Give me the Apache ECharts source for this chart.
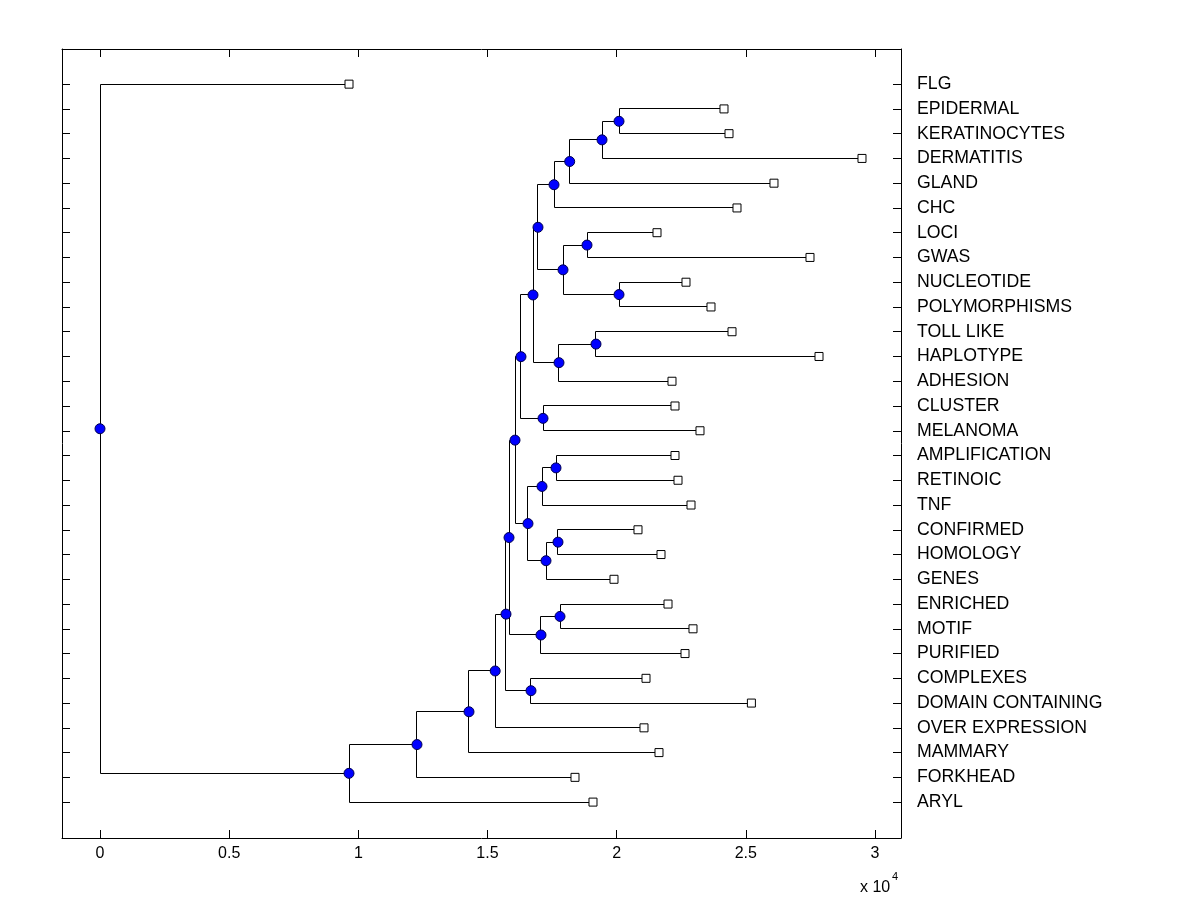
<!DOCTYPE html>
<html>
<head>
<meta charset="utf-8">
<script src="https://cdn.jsdelivr.net/npm/echarts@6/dist/echarts.min.js"></script>
<style>html,body{margin:0;padding:0;background:#fff;}#chart{width:1200px;height:900px;}</style>
</head>
<body>
<div id="chart"></div>
<script>
// Leaves, top to bottom, with their cumulative distance from the root
const leafNames = ['FLG','EPIDERMAL','KERATINOCYTES','DERMATITIS','GLAND','CHC','LOCI','GWAS','NUCLEOTIDE','POLYMORPHISMS','TOLL LIKE','HAPLOTYPE','ADHESION','CLUSTER','MELANOMA','AMPLIFICATION','RETINOIC','TNF','CONFIRMED','HOMOLOGY','GENES','ENRICHED','MOTIF','PURIFIED','COMPLEXES','DOMAIN CONTAINING','OVER EXPRESSION','MAMMARY','FORKHEAD','ARYL'];
const leafDist = [9639,24155,24349,29497,26090,24658,21562,27484,22684,23652,24465,27833,22142,22258,23226,22258,22375,22878,20826,21717,19897,21988,22955,22646,21136,25216,21058,21639,18387,19084];

// Internal (branch) nodes, their distance from the root and their two children
const nodeNames = ['root','A','B','C','D','E','H','F','J','K','I','M','N','P','O','Q','L','S','R','U','V','T','X','Y','Z','W','AA','AB','AC'];
const nodeDist = [0,9639,12271,14284,15298,15716,15833,16684,17071,17807,16065,16568,17110,17652,17265,17729,16297,17149,16762,17768,19200,16955,17923,18852,20091,17575,18182,19433,20091];
const nodeChildren = [
  ['FLG','A'],['B','ARYL'],['C','FORKHEAD'],['D','MAMMARY'],['E','OVER EXPRESSION'],
  ['H','F'],['I','J'],['COMPLEXES','DOMAIN CONTAINING'],['K','PURIFIED'],['ENRICHED','MOTIF'],
  ['L','M'],['N','O'],['P','TNF'],['AMPLIFICATION','RETINOIC'],['Q','GENES'],['CONFIRMED','HOMOLOGY'],
  ['R','S'],['CLUSTER','MELANOMA'],['T','U'],['V','ADHESION'],['TOLL LIKE','HAPLOTYPE'],
  ['W','X'],['Y','Z'],['LOCI','GWAS'],['NUCLEOTIDE','POLYMORPHISMS'],['AA','CHC'],['AB','GLAND'],
  ['AC','DERMATITIS'],['EPIDERMAL','KERATINOCYTES']
];

// Axis tick values
const xTickValues = [0,5000,10000,15000,20000,25000,30000];
const yTickValues = leafNames.map((_, i) => i + 1);

// ---- layout of the tree (y from leaf order, node y = mean of children) ----
const N = leafNames.length;
const pos = {};
leafNames.forEach((n, i) => { pos[n] = { x: leafDist[i], y: N - i }; });
function place(name) {
  if (pos[name]) return pos[name];
  const k = nodeNames.indexOf(name);
  const a = place(nodeChildren[k][0]);
  const b = place(nodeChildren[k][1]);
  pos[name] = { x: nodeDist[k], y: (a.y + b.y) / 2 };
  return pos[name];
}
nodeNames.forEach(place);

const branchData = nodeNames.map((n, k) => {
  const p = pos[n], a = pos[nodeChildren[k][0]], b = pos[nodeChildren[k][1]];
  return [p.x, p.y, a.x, a.y, b.x, b.y];
});
const leafData = leafNames.map(n => [pos[n].x, pos[n].y]);
const nodeData = nodeNames.map(n => [pos[n].x, pos[n].y]);

const FONT = '"Liberation Sans", Arial, Helvetica, sans-serif';
const XMIN = -1471, XMAX = 31007, YMIN = -0.45, YMAX = 31.42;

const snap = v => Math.round(v - 0.5) + 0.5;

const chart = echarts.init(document.getElementById('chart'), null, { renderer: 'canvas' });
chart.setOption({
  animation: false,
  backgroundColor: '#ffffff',
  grid: { left: 62, right: 299, top: 49, bottom: 62, containLabel: false },
  xAxis: [
    {
      type: 'value', position: 'bottom', min: XMIN, max: XMAX,
      axisLine: { show: true, onZero: false, lineStyle: { color: '#000', width: 1 } },
      axisTick: { show: true, inside: true, length: 8, customValues: xTickValues, lineStyle: { color: '#000' } },
      axisLabel: { show: true, customValues: xTickValues, margin: 8, color: '#000', fontSize: 16, fontFamily: FONT,
        formatter: v => String(v / 10000) },
      splitLine: { show: false }
    },
    {
      type: 'value', position: 'top', min: XMIN, max: XMAX,
      axisLine: { show: true, onZero: false, lineStyle: { color: '#000', width: 1 } },
      axisTick: { show: true, inside: true, length: 8, customValues: xTickValues, lineStyle: { color: '#000' } },
      axisLabel: { show: false },
      splitLine: { show: false }
    }
  ],
  yAxis: [
    {
      type: 'value', position: 'left', min: YMIN, max: YMAX,
      axisLine: { show: true, onZero: false, lineStyle: { color: '#000', width: 1 } },
      axisTick: { show: true, inside: true, length: 8, customValues: yTickValues, lineStyle: { color: '#000' } },
      axisLabel: { show: false },
      splitLine: { show: false }
    },
    {
      type: 'value', position: 'right', min: YMIN, max: YMAX,
      axisLine: { show: true, onZero: false, lineStyle: { color: '#000', width: 1 } },
      axisTick: { show: true, inside: true, length: 8, customValues: yTickValues, lineStyle: { color: '#000' } },
      axisLabel: { show: true, customValues: yTickValues, margin: 16, color: '#000', fontSize: 17.7, fontFamily: FONT,
        formatter: v => leafNames[N - Math.round(v)] || '' },
      splitLine: { show: false }
    }
  ],
  graphic: [
    { type: 'text', left: 860, top: 880, style: { text: 'x 10', font: '16px ' + FONT, fill: '#000' } },
    { type: 'text', left: 892, top: 871, style: { text: '4', font: '11px ' + FONT, fill: '#000' } }
  ],
  series: [
    {
      type: 'custom',
      xAxisIndex: 0, yAxisIndex: 0,
      z: 1,
      encode: { x: [0, 2, 4], y: [1, 3, 5] },
      data: branchData,
      silent: true,
      renderItem: function (params, api) {
        const p1 = api.coord([api.value(2), api.value(3)]);
        const p2 = api.coord([api.value(0), api.value(3)]);
        const p3 = api.coord([api.value(0), api.value(5)]);
        const p4 = api.coord([api.value(4), api.value(5)]);
        const pts = [p1, p2, p3, p4].map(p => [snap(p[0]), snap(p[1])]);
        return {
          type: 'polyline',
          shape: { points: pts },
          style: { stroke: '#000', lineWidth: 1, fill: null }
        };
      }
    },
    {
      type: 'scatter', xAxisIndex: 0, yAxisIndex: 0, z: 3,
      symbol: 'rect', symbolSize: 8,
      itemStyle: { color: '#ffffff', borderColor: '#000', borderWidth: 1, opacity: 1 },
      data: leafData, silent: true
    },
    {
      type: 'scatter', xAxisIndex: 0, yAxisIndex: 0, z: 4,
      symbol: 'circle', symbolSize: 10,
      itemStyle: { color: '#0000ff', borderColor: '#000050', borderWidth: 1, opacity: 1 },
      data: nodeData, silent: true
    }
  ]
});
</script>
</body>
</html>
